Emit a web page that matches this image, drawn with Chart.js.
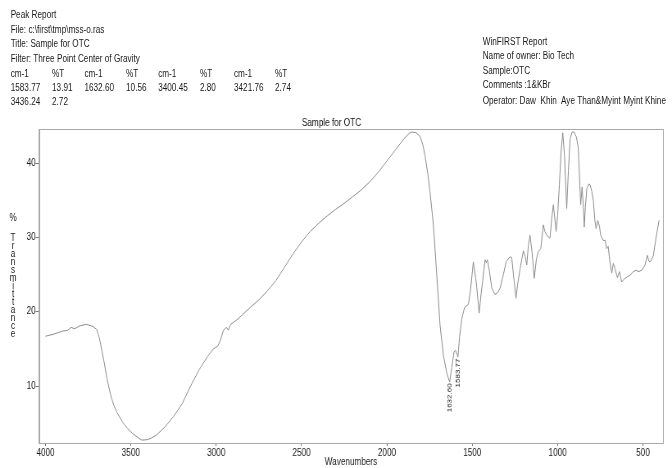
<!DOCTYPE html>
<html><head><meta charset="utf-8">
<script src="https://cdn.jsdelivr.net/npm/chart.js@4.4.1/dist/chart.umd.min.js"></script>
<style>
html,body{margin:0;padding:0;background:#fff;overflow:hidden;width:672px;height:468px}
#page{position:absolute;left:0;top:0;width:820px;height:468px;transform:scaleX(0.8195);transform-origin:0 0;font-family:"Liberation Sans",Arial,sans-serif;font-size:10px;color:#1a1a1a}
.t{position:absolute;white-space:pre;line-height:12px}
.v{position:absolute;width:12px;text-align:center;line-height:12px;left:10px}
canvas{position:absolute;left:0;top:0}
</style></head><body>
<div id="page">
<div class="t" style="left:13px;top:9px">Peak Report</div>
<div class="t" style="left:13px;top:24px">File: c:\first\tmp\mss-o.ras</div>
<div class="t" style="left:13px;top:38px">Title: Sample for OTC</div>
<div class="t" style="left:13px;top:53px">Filter: Three Point Center of Gravity</div>
<div id="tbl"></div>
<div class="t" style="left:589px;top:36px">WinFIRST Report</div>
<div class="t" style="left:589px;top:50px">Name of owner: Bio Tech</div>
<div class="t" style="left:589px;top:65px">Sample:OTC</div>
<div class="t" style="left:589px;top:79px">Comments :1&amp;KBr</div>
<div class="t" style="left:589px;top:95px">Operator: Daw  Khin  Aye Than&amp;Myint Myint Khine</div>
<div id="ylab"></div>
<canvas id="c" width="820" height="468"></canvas>
</div>
<script>
// ---- data ----
const wavenumbers = [4000,3950,3900,3870,3850,3830,3800,3760,3720,3700,3685,3670,3655,3640,3620,3600,3580,3550,3520,3490,3460,3436,3421,3400,3380,3350,3300,3250,3200,3150,3100,3050,3017,2990,2975,2958,2940,2930,2915,2880,2860,2800,2750,2700,2650,2600,2550,2500,2450,2400,2350,2300,2250,2200,2150,2100,2050,2000,1950,1900,1870,1855,1830,1806,1790,1777,1760,1748,1728,1708,1689,1670,1650,1633,1620,1607,1598,1584,1575,1562,1545,1523,1510,1494,1480,1474,1460,1448,1439,1425,1418,1412,1400,1386,1367,1350,1337,1318,1302,1280,1269,1260,1244,1235,1220,1201,1190,1181,1172,1162,1150,1137,1125,1113,1099,1084,1075,1064,1045,1035,1025,1009,1000,990,980,970,960,947,937,927,915,904,890,879,870,865,857,849,844,838,829,818,810,800,791,782,775,765,755,748,733,722,713,704,694,683,674,664,650,638,625,615,605,586,576,557,540,527,507,488,475,465,459,440,424,406];
const transmittance = [16.7,17.0,17.4,17.5,17.9,17.7,18.1,18.3,18.0,17.6,16.5,14.8,13.0,11.0,8.9,7.4,6.4,5.2,4.3,3.6,3.1,2.72,2.74,2.80,3.0,3.4,4.5,5.9,7.6,10.0,12.2,14.0,15.0,15.4,16.2,17.5,17.9,17.5,18.3,18.9,19.3,20.6,21.6,22.8,24.2,26.0,27.8,29.4,30.8,31.9,32.9,33.8,34.6,35.5,36.4,37.5,38.8,40.3,41.8,43.3,44.0,44.2,44.1,43.6,42.5,41.0,38.5,36.2,31.7,24.9,18.2,14.2,11.8,10.56,12.5,14.6,14.8,13.91,16.5,19.0,20.6,21.0,23.0,26.7,24.5,23.3,19.8,22.5,24.2,27.0,26.6,27.0,25.5,23.2,22.3,22.6,23.2,25.0,26.7,27.4,27.3,25.2,21.8,23.6,25.8,28.2,27.4,26.3,28.8,30.3,28.0,24.5,27.0,28.1,28.5,31.7,30.8,30.3,29.9,32.5,34.4,30.8,33.0,37.1,41.5,44.1,41.0,33.9,39.0,43.3,44.2,44.2,43.5,42.0,37.0,34.4,36.8,34.0,31.4,34.0,36.6,37.2,37.1,36.2,35.0,32.3,31.2,32.3,31.5,30.3,29.6,29.6,28.5,28.8,26.7,25.2,26.5,25.8,24.6,25.4,24.0,24.3,24.5,24.8,24.9,25.4,25.6,25.4,25.6,26.3,27.6,26.8,26.7,27.5,29.9,32.3];
const xTickValues = [4000,3500,3000,2500,2000,1500,1000,500];
const yTickValues = [10,20,30,40];
const peakWn = [1632.60, 1583.77];
const peakT = [10.56, 13.91];
const peakLabels = ['1632.60','1583.77'];
const tableRows = [
  ['cm-1','%T','cm-1','%T','cm-1','%T','cm-1','%T'],
  ['1583.77','13.91','1632.60','10.56','3400.45','2.80','3421.76','2.74'],
  ['3436.24','2.72']
];
const yAxisLetters = ['T','r','a','n','s','m','i','t','t','a','n','c','e'];

// ---- header table ----
const colX = [13,63.5,103,153.8,193,244,285.5,335.6];
const rowTop = [68,82,96];
const tbl = document.getElementById('tbl');
tableRows.forEach((row,r)=>row.forEach((txt,c)=>{
  const d=document.createElement('div');d.className='t';
  d.style.left=colX[c]+'px';d.style.top=rowTop[r]+'px';d.textContent=txt;tbl.appendChild(d);
}));
// ---- stacked y-axis title ----
const ylab=document.getElementById('ylab');
{const d=document.createElement('div');d.className='v';d.style.top='212px';d.textContent='%';ylab.appendChild(d);}
yAxisLetters.forEach((ch,i)=>{const d=document.createElement('div');d.className='v';d.style.top=(232+i*8)+'px';d.textContent=ch;ylab.appendChild(d);});

const framePlugin = {
  id:'frame',
  beforeDatasetsDraw(chart){
    const a=chart.chartArea, ctx=chart.ctx;
    ctx.save();ctx.strokeStyle='#a8a8a8';ctx.lineWidth=1;
    ctx.strokeRect(Math.round(a.left)+0.5,Math.round(a.top)+0.5,Math.round(a.right-a.left),Math.round(a.bottom-a.top));
    ctx.restore();
  }
};
const peakPlugin = {
  id:'peaks',
  afterDatasetsDraw(chart){
    const ctx=chart.ctx, xs=chart.scales.x, ys=chart.scales.y;
    ctx.save();ctx.fillStyle='#1a1a1a';ctx.font='8px "Liberation Sans", Arial, sans-serif';
    peakWn.forEach((w,i)=>{
      const x=xs.getPixelForValue(w), y=ys.getPixelForValue(peakT[i]);
      ctx.save();ctx.translate(x,y+1.5);ctx.rotate(-Math.PI/2);
      ctx.textAlign='right';ctx.textBaseline='middle';ctx.fillText(peakLabels[i],0,0);
      ctx.restore();
    });
    ctx.restore();
  }
};

new Chart(document.getElementById('c'),{
  type:'line',
  data:{datasets:[{
    data:wavenumbers.map((w,i)=>({x:w,y:transmittance[i]})),
    borderColor:'#8c8c8c',borderWidth:1,pointRadius:0,tension:0,fill:false
  }]},
  options:{
    responsive:false,animation:false,devicePixelRatio:1,
    layout:{padding:{top:117,left:0,right:11,bottom:0}},
    plugins:{
      legend:{display:false},tooltip:{enabled:false},
      title:{display:true,text:'Sample for OTC',color:'#111',font:{family:'"Liberation Sans", Arial, sans-serif',size:10,weight:'normal'},padding:{top:0,bottom:0}}
    },
    scales:{
      x:{type:'linear',reverse:true,min:383,max:4038,
        afterFit(s){s.height=25;},
        afterBuildTicks(s){s.ticks=xTickValues.map(v=>({value:v}));},
        ticks:{autoSkip:false,maxRotation:0,color:'#1a1a1a',padding:1,callback:v=>String(v),font:{family:'"Liberation Sans", Arial, sans-serif',size:10}},
        grid:{drawOnChartArea:false,tickLength:3,color:'#777'},
        border:{display:true,color:'#a8a8a8'},
        title:{display:true,text:'Wavenumbers',color:'#1a1a1a',padding:0,font:{family:'"Liberation Sans", Arial, sans-serif',size:10}}
      },
      y:{type:'linear',min:2.33,max:44.6,
        afterFit(s){s.width=47.6;},
        afterBuildTicks(s){s.ticks=yTickValues.map(v=>({value:v}));},
        ticks:{color:'#1a1a1a',padding:0,callback:v=>String(v),font:{family:'"Liberation Sans", Arial, sans-serif',size:10}},
        grid:{drawOnChartArea:false,tickLength:4,color:'#777'},
        border:{display:true,color:'#a8a8a8'}
      }
    }
  },
  plugins:[framePlugin,peakPlugin]
});
</script>
</body></html>
